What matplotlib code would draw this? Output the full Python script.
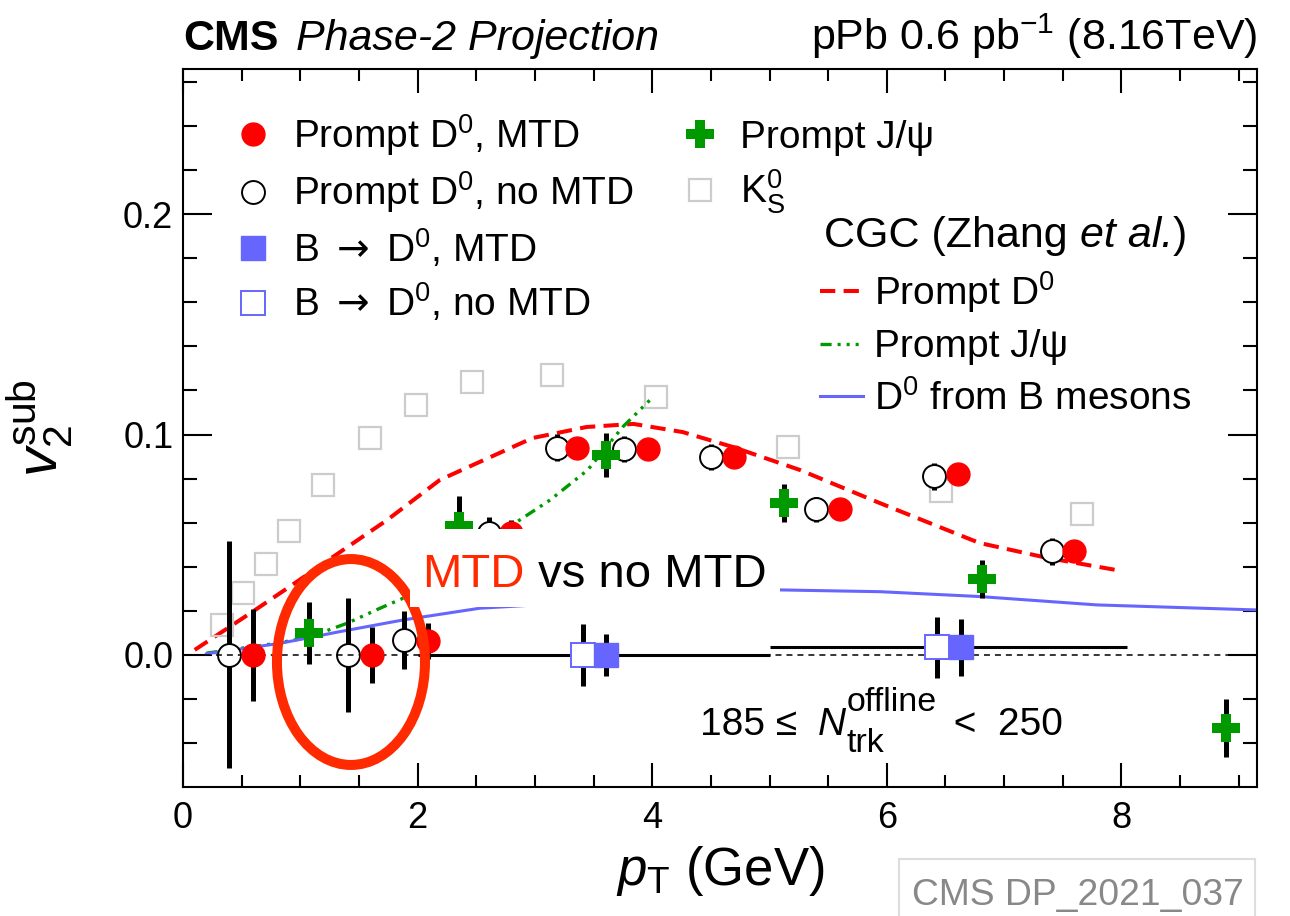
import matplotlib
matplotlib.use("Agg")
import matplotlib.pyplot as plt
from matplotlib.lines import Line2D
from matplotlib.patches import Ellipse, Rectangle
from matplotlib.ticker import MultipleLocator, FormatStrFormatter

plt.rcParams['font.family'] = ['Liberation Sans', 'DejaVu Sans']
plt.rcParams['mathtext.fontset'] = 'custom'
plt.rcParams['mathtext.rm'] = 'Liberation Sans'
plt.rcParams['mathtext.it'] = 'Liberation Sans:italic'
plt.rcParams['mathtext.bf'] = 'Liberation Sans:bold'
plt.rcParams['mathtext.sf'] = 'DejaVu Sans'
plt.rcParams['lines.scale_dashes'] = False

# ---------------- data ----------------
# Prompt D0, with MTD
d0_mtd_pt = [0.60, 1.61, 2.09, 2.80, 3.36, 3.96, 4.70, 5.60, 6.61, 7.60]
d0_mtd_v2 = [0.0, 0.0, 0.0063, 0.0553, 0.094, 0.0934, 0.0898, 0.066, 0.082, 0.047]
d0_mtd_err = [0.021, 0.0125, 0.008, 0.006, 0.004, 0.004, 0.004, 0.004, 0.004, 0.004]

# Prompt D0, without MTD
d0_nomtd_pt = [0.39, 1.41, 1.88, 2.61, 3.19, 3.76, 4.50, 5.40, 6.40, 7.41]
d0_nomtd_v2 = [0.0, 0.0, 0.0068, 0.0553, 0.094, 0.0934, 0.0898, 0.066, 0.081, 0.047]
d0_nomtd_err = [0.0515, 0.026, 0.013, 0.0075, 0.0062, 0.006, 0.006, 0.0055, 0.006, 0.0062]

# B -> D0
b_mtd_pt = [3.61, 6.63]
b_mtd_v2 = [0.0, 0.0035]
b_mtd_err = [0.0095, 0.013]
b_nomtd_pt = [3.41, 6.43]
b_nomtd_v2 = [0.0, 0.0035]
b_nomtd_err = [0.014, 0.0138]
b_bin_lo = [2.0, 5.0]
b_bin_hi = [5.0, 8.05]

# Prompt J/psi
jpsi_pt = [1.07, 2.35, 3.61, 5.12, 6.81, 8.89]
jpsi_v2 = [0.010, 0.0583, 0.0907, 0.0688, 0.0345, -0.0332]
jpsi_err = [0.014, 0.014, 0.010, 0.0086, 0.0086, 0.013]

# K0s
ks_pt = [0.33, 0.51, 0.71, 0.90, 1.19, 1.59, 1.99, 2.46, 3.15, 4.03, 5.16, 6.46, 7.66]
ks_v2 = [0.0136, 0.0281, 0.0413, 0.0564, 0.0771, 0.0986, 0.1134, 0.124, 0.127,
         0.117, 0.0945, 0.0744, 0.064]

# CGC calculations (Zhang et al.)
cgc_d0_pt = [0.10, 0.59, 0.91, 1.34, 1.74, 2.19, 2.51, 2.98, 3.44, 3.84, 4.26,
             4.69, 5.26, 5.94, 6.79, 7.37, 7.96]
cgc_d0_v2 = [0.0023, 0.0195, 0.031, 0.0467, 0.0612, 0.0794, 0.0871, 0.0984, 0.1034,
             0.1048, 0.1011, 0.0943, 0.0839, 0.0689, 0.0508, 0.044, 0.0385]
cgc_jpsi_pt = [0.20, 0.80, 1.07, 1.40, 1.68, 1.91, 2.87, 3.13, 3.45, 3.75, 3.98]
cgc_jpsi_v2 = [0.0008, 0.0053, 0.008, 0.0144, 0.0212, 0.0265, 0.0612, 0.0703,
               0.0839, 0.1035, 0.1156]
cgc_b_pt = [0.20, 0.83, 1.34, 1.88, 2.53, 2.76, 5.09, 5.94, 6.79, 7.79, 9.16]
cgc_b_v2 = [0.0005, 0.0053, 0.0106, 0.0159, 0.0212, 0.0219, 0.0295, 0.0287, 0.0265,
            0.0227, 0.0204]

# ---------------- style ----------------
RED = '#ff0000'
BLUE = '#6666ff'
GREEN = '#009900'
GREY = '#cccccc'
HILITE = '#ff2a00'
CGC_D0_DASH = (0, (11, 6))
CGC_JPSI_DASH = (0, (8, 4.3, 2.2, 4.3, 2.2, 4.3, 2.2, 4.3))

fig = plt.figure(figsize=(12.9, 9.16), dpi=100)
ax = fig.add_axes([183 / 1290, 129 / 916, 1074 / 1290, 718 / 916])
ax.set_xlim(0, 9.156)
ax.set_ylim(-0.0599, 0.2658)

# theory curves
ax.plot(cgc_d0_pt, cgc_d0_v2, color=RED, lw=2.9, ls=CGC_D0_DASH, zorder=2)
ax.plot(cgc_jpsi_pt, cgc_jpsi_v2, color=GREEN, lw=2.4, ls=CGC_JPSI_DASH, zorder=2)
ax.plot(cgc_b_pt, cgc_b_v2, color=BLUE, lw=2.2, zorder=2)

# K0s
ax.plot(ks_pt, ks_v2, ls='none', marker='s', ms=16.5, mfc='none', mec=GREY, mew=1.6,
        zorder=2.5)

# error bars
ebkw = dict(fmt='none', ecolor='black', elinewidth=3.6, capsize=0, zorder=3)
ax.errorbar(d0_nomtd_pt, d0_nomtd_v2, yerr=d0_nomtd_err, **ebkw)
ax.errorbar(d0_mtd_pt, d0_mtd_v2, yerr=d0_mtd_err, **ebkw)
ax.errorbar(jpsi_pt, jpsi_v2, yerr=jpsi_err, **ebkw)
ax.errorbar(b_nomtd_pt, b_nomtd_v2, yerr=b_nomtd_err, **ebkw)
ax.errorbar(b_mtd_pt, b_mtd_v2, yerr=b_mtd_err, **ebkw)

# open D0 markers
ax.plot(d0_nomtd_pt, d0_nomtd_v2, ls='none', marker='o', ms=16.5, mfc='white',
        mec='black', mew=1.4, zorder=3.3)

# zero reference and B-meson bin widths
ax.axhline(0, color='black', lw=1.1, ls=(0, (4.3, 3.6)), zorder=3.4)
ax.hlines(b_mtd_v2, b_bin_lo, b_bin_hi, color='black', lw=2.2, zorder=3.45)

ax.plot(d0_mtd_pt, d0_mtd_v2, ls='none', marker='o', ms=16.5, mfc=RED, mec=RED,
        zorder=4)
ax.plot(b_nomtd_pt, b_nomtd_v2, ls='none', marker='s', ms=17.5, mfc='white', mec=BLUE,
        mew=1.4, zorder=4)
ax.plot(b_mtd_pt, b_mtd_v2, ls='none', marker='s', ms=17.5, mfc=BLUE, mec=BLUE,
        zorder=4)
ax.plot(jpsi_pt, jpsi_v2, ls='none', marker='P', ms=20, mfc=GREEN, mec=GREEN, mew=0,
        zorder=4)

# highlight of the low-pT points
ax.add_patch(Ellipse((1.432, -0.0032), 1.262, 0.0934, fill=False, ec=HILITE, lw=7.2,
                     zorder=5))
ax.add_patch(Rectangle((1.935, 0.0218), 3.155, 0.0353, fc='white', ec='none', zorder=6))
t_mtd = ax.text(2.04, 0.0308, 'MTD', color=HILITE, fontsize=34, va='baseline',
                zorder=7)
ax.annotate(' vs no MTD', xy=(1, 0), xycoords=t_mtd, fontsize=34, color='black',
            va='bottom', ha='left', zorder=7)

# multiplicity class label
t_lo = ax.text(4.41, -0.0363, '185 ≤ ', fontsize=28, va='baseline')
t_n = ax.annotate('N', xy=(1, 0), xycoords=t_lo, xytext=(7, 0),
                  textcoords='offset points', fontsize=28, style='italic',
                  va='bottom', ha='left')
t_sup = ax.annotate('offline', xy=(1, 0), xycoords=t_n, xytext=(0.5, 17.8),
                    textcoords='offset points', fontsize=24.5, va='bottom', ha='left')
ax.annotate('trk', xy=(1, 0), xycoords=t_n, xytext=(0.5, -11.5),
            textcoords='offset points', fontsize=24.5, va='bottom', ha='left')
ax.annotate(' <  250', xy=(1, 0), xycoords=(t_sup, t_lo), xytext=(4, 0),
            textcoords='offset points', fontsize=28, va='bottom', ha='left')

# axes cosmetics
for s in ax.spines.values():
    s.set_linewidth(1.5)
ax.xaxis.set_major_locator(MultipleLocator(2))
ax.xaxis.set_minor_locator(MultipleLocator(0.5))
ax.yaxis.set_major_locator(MultipleLocator(0.1))
ax.yaxis.set_minor_locator(MultipleLocator(0.02))
ax.yaxis.set_major_formatter(FormatStrFormatter('%.1f'))
ax.tick_params(axis='both', which='both', direction='in', top=True, right=True,
               width=1.5, labelsize=26)
ax.tick_params(axis='x', which='major', length=17.5, pad=10)
ax.tick_params(axis='x', which='minor', length=8.6)
ax.tick_params(axis='y', which='major', length=21, pad=7)
ax.tick_params(axis='y', which='minor', length=10)

ax.set_xlabel(r'$p_{\rm T}$ (GeV)', fontsize=38)
ax.xaxis.set_label_coords(0.5, -0.08)
ax.set_ylabel(r'$v_{2}^{\rm sub}$', fontsize=42)
ax.yaxis.set_label_coords(-0.10, 0.5)

# legends
lkw = dict(fontsize=28, frameon=False, borderpad=0, borderaxespad=0, loc='upper left')
h_d0_mtd = Line2D([], [], ls='none', marker='o', ms=16.5, mfc=RED, mec=RED)
h_d0_no = Line2D([], [], ls='none', marker='o', ms=16.5, mfc='white', mec='black', mew=1.4)
h_b_mtd = Line2D([], [], ls='none', marker='s', ms=17.5, mfc=BLUE, mec=BLUE)
h_b_no = Line2D([], [], ls='none', marker='s', ms=17.5, mfc='white', mec=BLUE, mew=1.4)
leg1 = ax.legend([h_d0_mtd, h_d0_no, h_b_mtd, h_b_no],
                 [r'Prompt D$^{0}$, MTD', r'Prompt D$^{0}$, no MTD',
                  r'B $\mathsf{\rightarrow}$ D$^{0}$, MTD',
                  r'B $\mathsf{\rightarrow}$ D$^{0}$, no MTD'],
                 bbox_to_anchor=(0.047, 0.940), handlelength=1.0, handletextpad=0.53,
                 labelspacing=0.3, **lkw)
ax.add_artist(leg1)

h_jpsi = Line2D([], [], ls='none', marker='P', ms=20, mfc=GREEN, mec=GREEN, mew=0)
h_ks = Line2D([], [], ls='none', marker='s', ms=16.5, mfc='none', mec=GREY, mew=1.6)
leg2 = ax.legend([h_jpsi, h_ks], ['Prompt J/ψ', r'K$^{0}_{\rm S}$'],
                 bbox_to_anchor=(0.463, 0.929), handlelength=1.0, handletextpad=0.53,
                 labelspacing=0.3, **lkw)
ax.add_artist(leg2)

t_cgc = ax.text(0.597, 0.752, 'CGC (Zhang ', transform=ax.transAxes, fontsize=31,
                va='baseline')
t_etal = ax.annotate('et al.', xy=(1, 0), xycoords=t_cgc, fontsize=31, style='italic',
                     va='bottom', ha='left')
ax.annotate(')', xy=(1, 0), xycoords=t_etal, fontsize=31, va='bottom', ha='left')

h_c1 = Line2D([], [], color=RED, lw=2.9, ls=CGC_D0_DASH)
h_c2 = Line2D([], [], color=GREEN, lw=2.4, ls=CGC_JPSI_DASH)
h_c3 = Line2D([], [], color=BLUE, lw=2.2)
leg3 = ax.legend([h_c1, h_c2, h_c3],
                 [r'Prompt D$^{0}$', 'Prompt J/ψ', r'D$^{0}$ from B mesons'],
                 bbox_to_anchor=(0.593, 0.7216), handlelength=1.1, handletextpad=0.28,
                 labelspacing=0.38, **lkw)

# header
fig.text(183 / 1290, (916 - 50) / 916, 'CMS', fontsize=31, fontweight='bold',
         va='baseline')
fig.text(296 / 1290, (916 - 50) / 916, 'Phase-2 Projection', fontsize=31,
         style='italic', va='baseline')
fig.text(1257 / 1290, (916 - 50) / 916, r'pPb 0.6 pb$^{-1}$ (8.16TeV)', fontsize=31,
         ha='right', va='baseline')

# document tag
fig.patches.append(Rectangle((899 / 1290, -0.01), 356 / 1290, 0.0722,
                             transform=fig.transFigure, fc='white', ec='#dddddd',
                             lw=1.5))
fig.text(912 / 1290, (916 - 905) / 916, 'CMS DP_2021_037', fontsize=26.8,
         color='#888888', va='baseline')

fig.savefig('out.png', dpi=100)
